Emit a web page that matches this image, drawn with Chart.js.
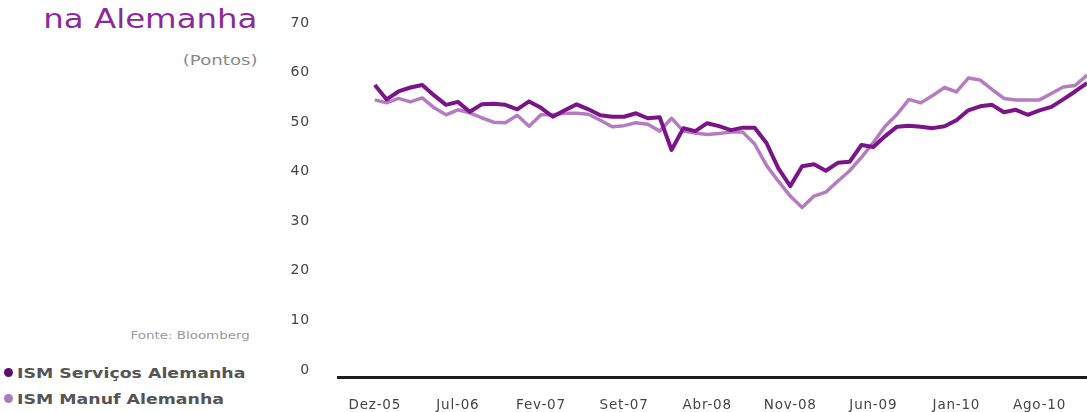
<!DOCTYPE html>
<html lang="pt">
<head>
<meta charset="utf-8">
<title>ISM na Alemanha</title>
<script src="https://cdn.jsdelivr.net/npm/chart.js@4.4.1/dist/chart.umd.min.js"></script>
<style>
    html, body { margin: 0; padding: 0; background: #fff; }
    body { width: 1087px; height: 412px; position: relative; overflow: hidden; font-family: "DejaVu Sans", sans-serif; }
    #chart { position: absolute; left: 0; top: 0; }
    .side { position: absolute; white-space: nowrap; transform-origin: right center; }
    #title { right: 830px; top: 5px; font-size: 27px; line-height: 27px; color: #8c2a9c; transform: scaleX(1.2); }
    #unit { right: 829px; top: 52px; font-size: 14px; line-height: 17px; color: #8a8a8a; transform: scaleX(1.3); }
    #source { right: 837px; top: 329px; font-size: 11px; line-height: 14px; color: #9a9a9a; transform: scaleX(1.22); }
    .legend { position: absolute; left: 4px; white-space: nowrap; font-size: 14px; line-height: 16px; font-weight: 600; color: #555; }
    .legend span.lbl { display: inline-block; transform: scaleX(1.24); transform-origin: left center; margin-left: 4px; }
    .legend span.dot { display: inline-block; width: 9px; height: 9px; border-radius: 50%; vertical-align: 1px; }
</style>
</head>
<body>
<div id="title" class="side">na Alemanha</div>
<div id="unit" class="side">(Pontos)</div>
<div id="source" class="side">Fonte: Bloomberg</div>
<div class="legend" style="top:365px"><span class="dot" style="background:#5e0b70"></span><span class="lbl">ISM Serviços Alemanha</span></div>
<div class="legend" style="top:391px"><span class="dot" style="background:#a97cba"></span><span class="lbl">ISM Manuf Alemanha</span></div>
<canvas id="chart" width="1087" height="412"></canvas>

<script>
(function () {
    "use strict";

    // Meses (Dez-05 a Dez-10)
    var months = [
        'Dez-05',
        'Jan-06', 'Fev-06', 'Mar-06', 'Abr-06', 'Mai-06', 'Jun-06', 'Jul-06', 'Ago-06', 'Set-06', 'Out-06', 'Nov-06', 'Dez-06',
        'Jan-07', 'Fev-07', 'Mar-07', 'Abr-07', 'Mai-07', 'Jun-07', 'Jul-07', 'Ago-07', 'Set-07', 'Out-07', 'Nov-07', 'Dez-07',
        'Jan-08', 'Fev-08', 'Mar-08', 'Abr-08', 'Mai-08', 'Jun-08', 'Jul-08', 'Ago-08', 'Set-08', 'Out-08', 'Nov-08', 'Dez-08',
        'Jan-09', 'Fev-09', 'Mar-09', 'Abr-09', 'Mai-09', 'Jun-09', 'Jul-09', 'Ago-09', 'Set-09', 'Out-09', 'Nov-09', 'Dez-09',
        'Jan-10', 'Fev-10', 'Mar-10', 'Abr-10', 'Mai-10', 'Jun-10', 'Jul-10', 'Ago-10', 'Set-10', 'Out-10', 'Nov-10', 'Dez-10'
    ];

    var servicos = [
        58.9, 56.0, 57.6, 58.4, 58.9, 56.8, 54.9, 55.5, 53.5, 55.0,
        55.1, 54.9, 54.0, 55.6, 54.3, 52.5, 53.8, 55.0, 54.0, 52.8,
        52.5, 52.5, 53.2, 52.2, 52.4, 45.8, 50.2, 49.6, 51.2, 50.6,
        49.8, 50.3, 50.3, 47.2, 42.1, 38.5, 42.5, 42.9, 41.6, 43.2,
        43.4, 46.8, 46.4, 48.6, 50.5, 50.7, 50.5, 50.2, 50.6, 51.8,
        53.8, 54.6, 54.9, 53.4, 53.9, 52.9, 53.8, 54.5, 56.0, 57.6, 59.3
    ];

    var manuf = [
        55.9, 55.3, 56.2, 55.5, 56.3, 54.3, 52.9, 53.9, 53.3, 52.3,
        51.4, 51.3, 52.8, 50.6, 52.9, 52.9, 53.2, 53.2, 53.0, 51.8,
        50.5, 50.7, 51.3, 51.0, 49.6, 52.2, 49.6, 49.2, 48.9, 49.1,
        49.4, 49.4, 47.0, 42.7, 39.5, 36.5, 34.2, 36.5, 37.3, 39.5,
        41.6, 44.3, 47.3, 50.6, 53.0, 56.0, 55.3, 56.8, 58.4, 57.5,
        60.3, 59.9, 58.0, 56.2, 55.9, 55.9, 55.9, 57.2, 58.5, 58.8, 60.9
    ];

    // rótulos do eixo x: a cada 7 meses
    var tickLabels = ['Dez-05', 'Jul-06', 'Fev-07', 'Set-07', 'Abr-08', 'Nov-08', 'Jun-09', 'Jan-10', 'Ago-10'];
    var yTicks = [0, 10, 20, 30, 40, 50, 60, 70];

    function toPoints(values) {
        return values.map(function (v, i) { return { x: i, y: v }; });
    }

    // fonte um pouco mais espaçada nos eixos
    var spacing = {
        id: 'spacing',
        beforeDraw: function (chart) { chart.ctx.letterSpacing = '0.8px'; }
    };

    var ctx = document.getElementById('chart').getContext('2d');
    var ismChart = new Chart(ctx, {
        type: 'line',
        data: {
            datasets: [{
                label: 'ISM Serviços Alemanha',
                data: toPoints(servicos),
                borderColor: '#7a1488',
                borderWidth: 4,
                pointRadius: 0,
                tension: 0,
                borderJoinStyle: 'round'
            }, {
                label: 'ISM Manuf Alemanha',
                data: toPoints(manuf),
                borderColor: '#b57cc2',
                borderWidth: 3.5,
                pointRadius: 0,
                tension: 0,
                borderJoinStyle: 'round'
            }]
        },
        options: {
            responsive: false,
            animation: false,
            devicePixelRatio: 1,
            layout: { padding: { left: 280, top: 30, right: 0, bottom: 0 } },
            plugins: {
                legend: { display: false },
                tooltip: { enabled: false }
            },
            scales: {
                x: {
                    type: 'linear',
                    min: -3.1,
                    max: months.length - 1,
                    afterBuildTicks: function (scale) {
                        scale.ticks = tickLabels.map(function (t) { return { value: months.indexOf(t) }; });
                    },
                    afterFit: function (scale) { scale.height = 35; },
                    grid: { display: false },
                    border: { display: true, color: '#1c1c1c', width: 3 },
                    ticks: {
                        autoSkip: false,
                        maxRotation: 0,
                        padding: 12,
                        color: '#444',
                        font: { family: 'DejaVu Sans', size: 13.5 },
                        callback: function (v) { return months[v]; }
                    }
                },
                y: {
                    min: 0,
                    max: 70,
                    afterBuildTicks: function (scale) {
                        scale.ticks = yTicks.map(function (v) { return { value: v }; });
                    },
                    afterFit: function (scale) { scale.width = 58; },
                    grid: { display: false },
                    border: { display: false },
                    ticks: {
                        padding: 20,
                        labelOffset: -7,
                        color: '#444',
                        font: { family: 'DejaVu Sans', size: 14 }
                    }
                }
            }
        },
        plugins: [spacing]
    });
})();
</script>
</body>
</html>
